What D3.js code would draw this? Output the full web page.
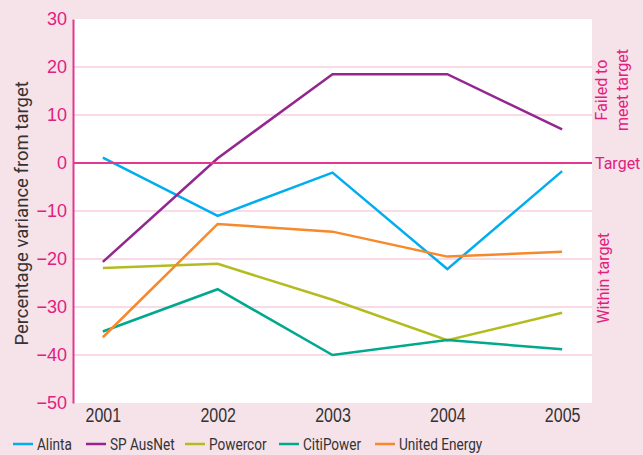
<!DOCTYPE html>
<html>
<head>
<meta charset="utf-8">
<script src="https://cdn.jsdelivr.net/npm/d3@7"></script>
<style>
  body { margin: 0; background: #f6e2e9; }
  svg { display: block; font-family: Roboto, "Noto Sans", sans-serif; }
</style>
</head>
<body>
<div id="chart"></div>
<script>
const years = ["2001", "2002", "2003", "2004", "2005"];
const yTicks = [30, 20, 10, 0, -10, -20, -30, -40, -50];
const seriesNames = ["Alinta", "SP AusNet", "Powercor", "CitiPower", "United Energy"];
const seriesColors = ["#00aeef", "#93278f", "#b3bc1f", "#00a88e", "#f7892a"];

const alinta = [1.1, -11.0, -2.0, -22.1, -1.7];
const spAusNet = [-20.6, 1.0, 18.5, 18.5, 7.0];
const powercor = [-21.9, -21.0, -28.5, -36.9, -31.2];
const citiPower = [-35.1, -26.3, -40.0, -36.9, -38.8];
const unitedEnergy = [-36.3, -12.7, -14.3, -19.5, -18.5];

const seriesValues = [alinta, spAusNet, powercor, citiPower, unitedEnergy];

const W = 643, H = 455;
const margin = { top: 19, right: 51, bottom: 52, left: 73 };
const width = W - margin.left - margin.right,
      height = H - margin.top - margin.bottom;

const svg = d3.select("#chart").append("svg")
    .attr("width", W)
    .attr("height", H);

const g = svg.append("g")
    .attr("transform", "translate(" + margin.left + "," + margin.top + ")");

const x = d3.scalePoint()
    .domain(years)
    .range([0, width])
    .padding(0.26);

const y = d3.scaleLinear()
    .domain([-50, 30])
    .range([height, 0]);

// white plot area
g.append("rect")
    .attr("width", width)
    .attr("height", height)
    .attr("fill", "#ffffff");

// grid lines
g.selectAll(".grid")
  .data(yTicks.filter(d => d !== 0 && d !== 30 && d !== -50))
  .enter().append("line")
    .attr("x1", 0)
    .attr("x2", width)
    .attr("y1", d => y(d))
    .attr("y2", d => y(d))
    .attr("stroke", "#f6cfdf")
    .attr("stroke-width", 1.5);

// y axis
const yAxis = g.append("g")
    .call(d3.axisLeft(y).tickValues(yTicks).tickSize(0).tickPadding(6));
yAxis.select(".domain").attr("stroke", "#e4388f").attr("stroke-width", 2);
yAxis.selectAll("text")
    .attr("fill", "#e2207f")
    .style("font-size", "18px");

// x axis (condensed digits)
const xAxis = g.append("g")
    .attr("transform", "translate(0," + height + ")")
    .call(d3.axisBottom(x).tickSize(0).tickPadding(5));
xAxis.select(".domain").remove();
xAxis.selectAll("text")
    .attr("fill", "#333333")
    .attr("transform", "scale(0.82,1)")
    .style("font-size", "19.5px");

// series lines
const line = d3.line()
    .x((d, i) => x(years[i]))
    .y(d => y(d));

g.selectAll(".series")
  .data(seriesValues)
  .enter().append("path")
    .attr("d", d => line(d))
    .attr("fill", "none")
    .attr("stroke", (d, i) => seriesColors[i])
    .attr("stroke-width", 2.5)
    .attr("stroke-linejoin", "miter");

// target line
g.append("line")
    .attr("x1", 0)
    .attr("x2", width)
    .attr("y1", y(0))
    .attr("y2", y(0))
    .attr("stroke", "#e4388f")
    .attr("stroke-width", 2);

g.append("text")
    .attr("x", width + 3)
    .attr("y", y(0))
    .attr("dy", "0.35em")
    .attr("fill", "#e2207f")
    .style("font-size", "16px")
    .text("Target");

// right side annotations
const failed = g.append("text")
    .attr("transform", "translate(" + (width + 15) + "," + y(15.2) + ") rotate(-90)")
    .attr("text-anchor", "middle")
    .attr("fill", "#e2207f")
    .style("font-size", "16px");
failed.append("tspan").attr("x", 0).attr("dy", "0").text("Failed to");
failed.append("tspan").attr("x", 0).attr("dy", "1.3em").text("meet target");

g.append("text")
    .attr("transform", "translate(" + (width + 17) + "," + y(-24) + ") rotate(-90)")
    .attr("text-anchor", "middle")
    .attr("fill", "#e2207f")
    .style("font-size", "16px")
    .text("Within target");

// y axis label
svg.append("text")
    .attr("transform", "translate(28," + (margin.top + y(-10.5)) + ") rotate(-90)")
    .attr("text-anchor", "middle")
    .attr("fill", "#333333")
    .style("font-size", "18.5px")
    .text("Percentage variance from target");

// legend
const legendX = [13, 86, 185, 279, 375];
const legend = svg.selectAll(".legend")
  .data(seriesNames)
  .enter().append("g")
    .attr("transform", (d, i) => "translate(" + legendX[i] + ",444)");

legend.append("line")
    .attr("x1", 0)
    .attr("x2", 20)
    .attr("stroke", (d, i) => seriesColors[i])
    .attr("stroke-width", 2.5);

legend.append("text")
    .attr("transform", "translate(24,0) scale(0.8,1)")
    .attr("dy", "0.35em")
    .attr("fill", "#333333")
    .style("font-size", "17px")
    .text(d => d);
</script>
</body>
</html>
